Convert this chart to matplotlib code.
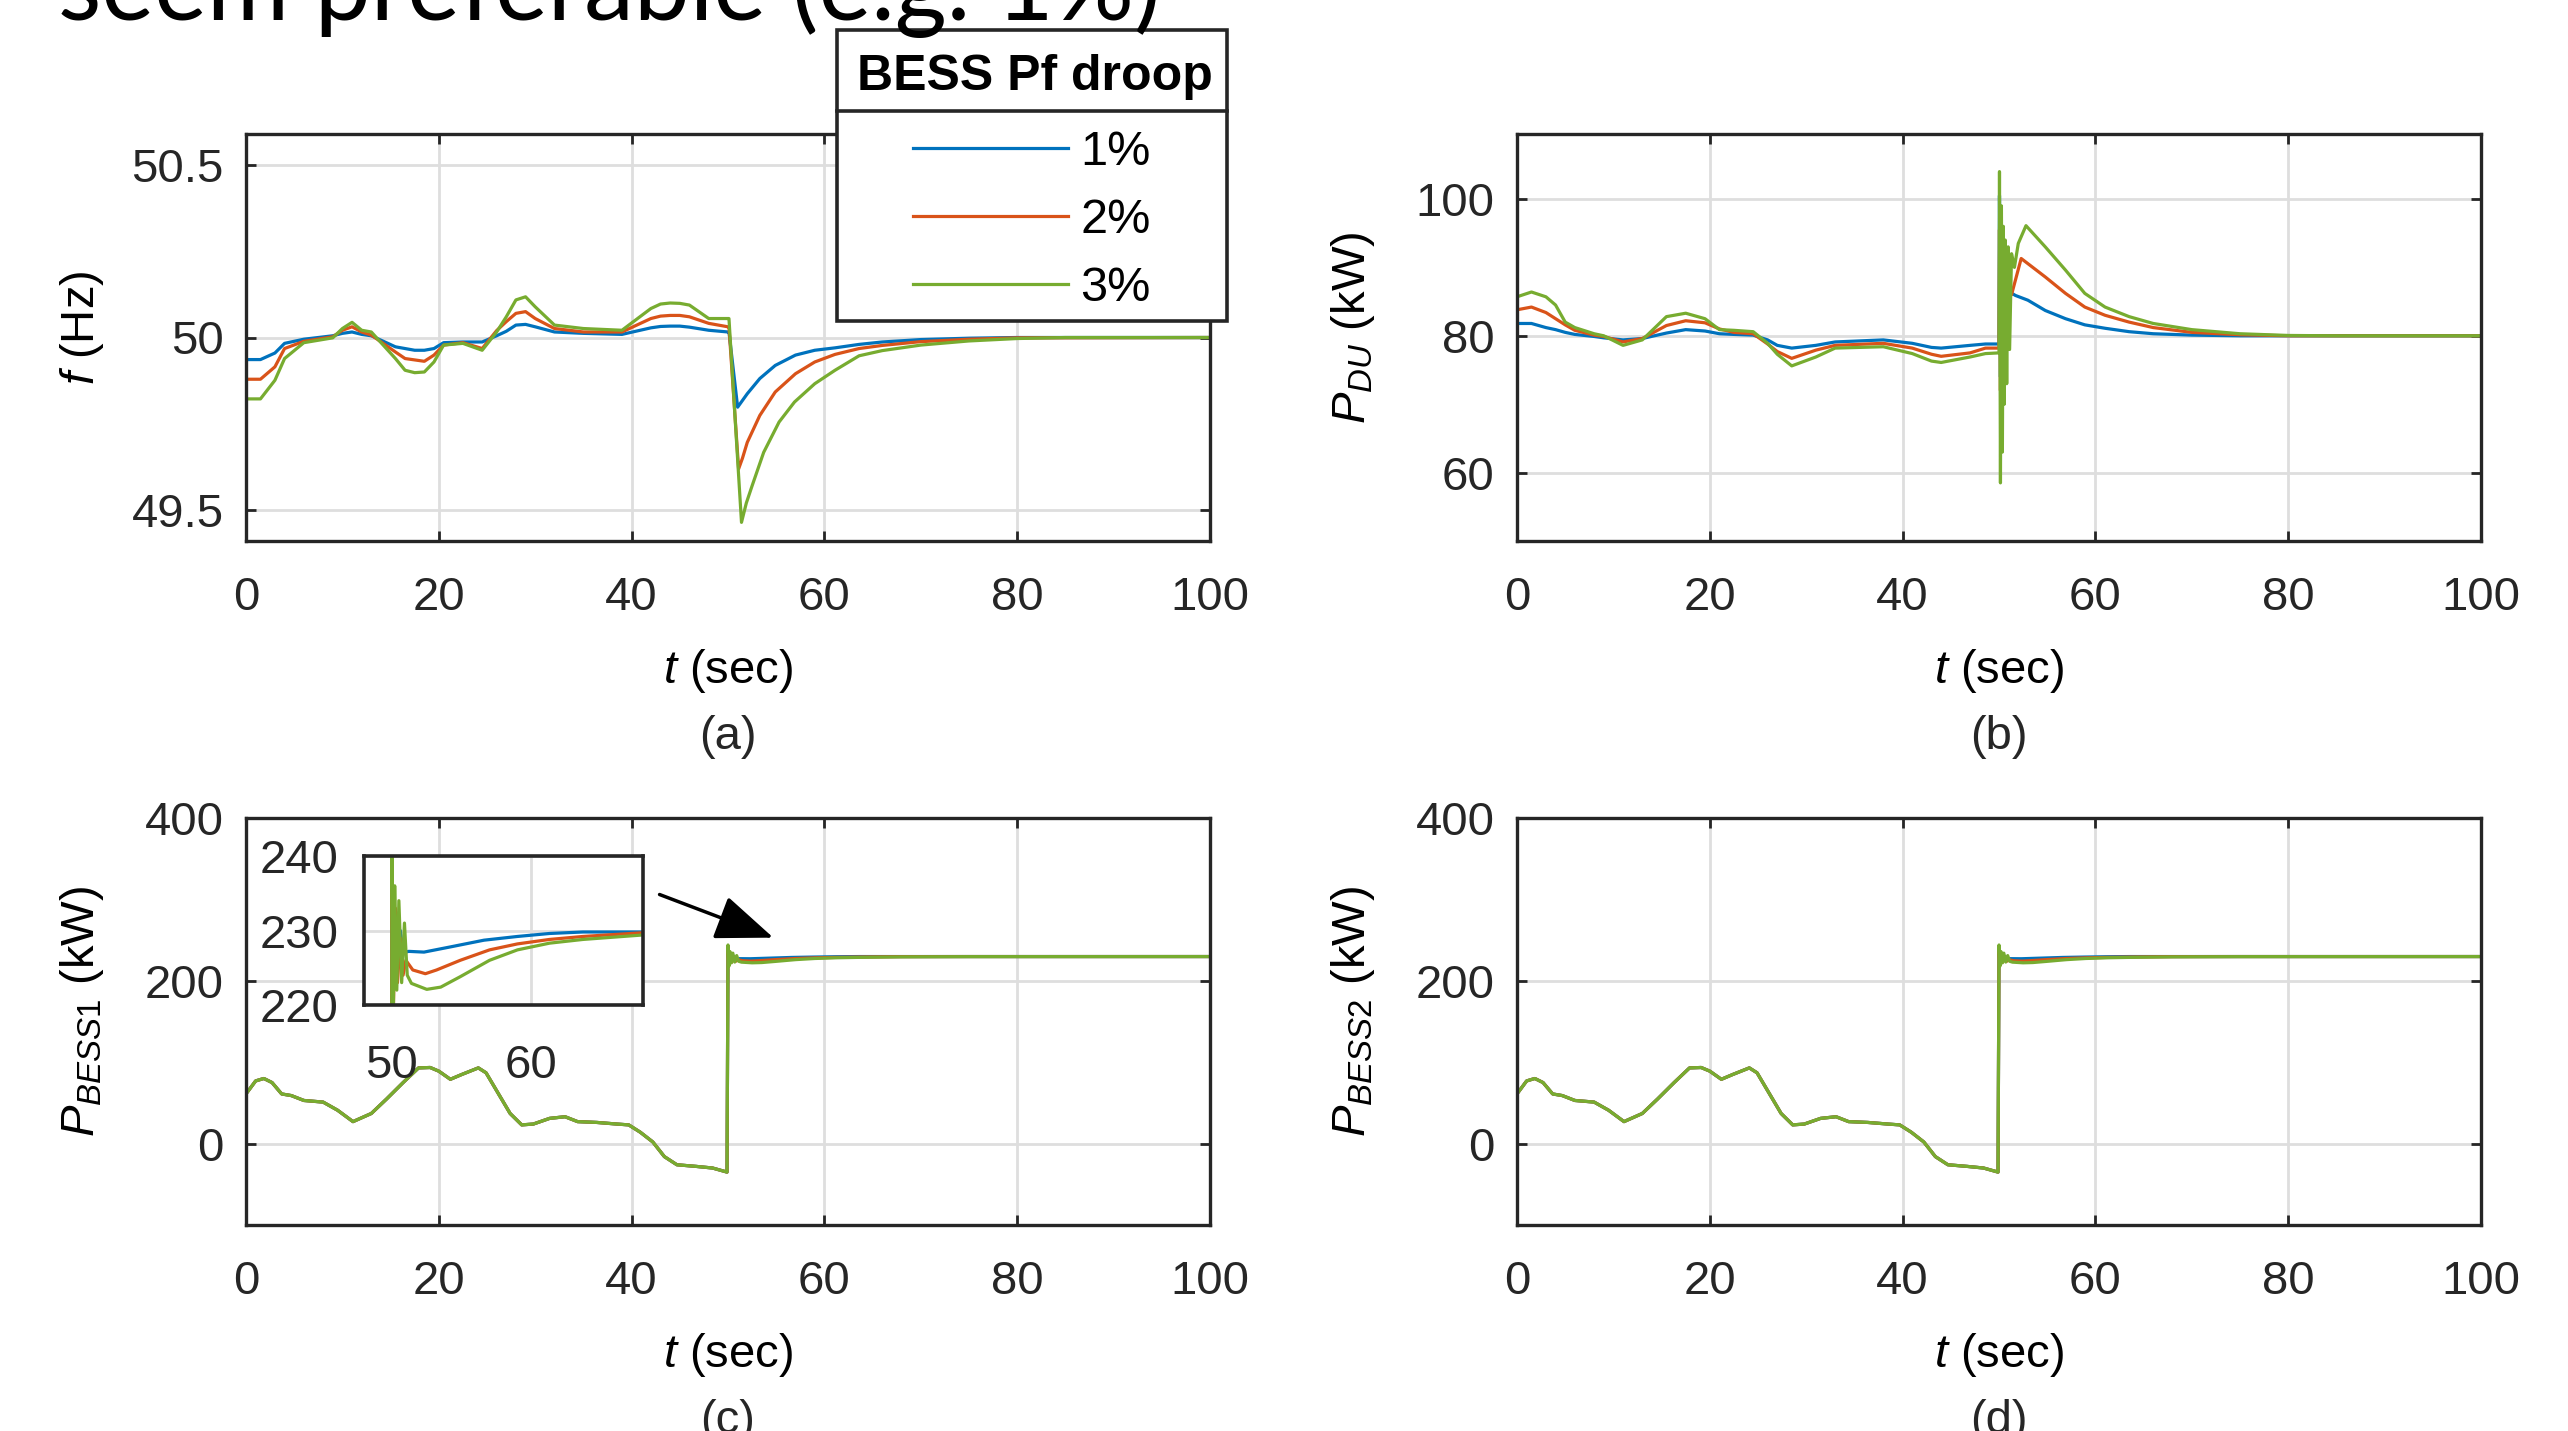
import matplotlib
matplotlib.use("Agg")
import matplotlib.pyplot as plt
from matplotlib.patches import Rectangle
from matplotlib.lines import Line2D
import numpy as np

# MATLAB-like look
plt.rcParams['font.family'] = ['Liberation Sans', 'DejaVu Sans']
plt.rcParams['mathtext.fontset'] = 'custom'
plt.rcParams['mathtext.it'] = 'Liberation Sans:italic'
plt.rcParams['mathtext.rm'] = 'Liberation Sans'

W, H = 2568, 1431
DPI = 100

blue = "#0072BD"
orange = "#D95319"
green = "#77AC30"
droops = ["1%", "2%", "3%"]

# ---- (a) frequency (Hz) ----
t_f_pre = [0, 1.5, 3, 4, 6, 9, 10, 11, 12, 13, 15.5, 16.5, 17.5, 18.5, 19.5, 20.5, 22.5, 24.5,
           26, 27, 28, 29, 30, 32, 35, 39, 42, 43, 44, 45, 46, 48, 50, 50.1]
f1_pre = [49.936, 49.936, 49.955, 49.983, 49.995, 50.005, 50.012, 50.016, 50.009, 50.005, 49.973,
          49.968, 49.963, 49.963, 49.968, 49.985, 49.987, 49.987, 50.005, 50.018, 50.036, 50.038,
          50.031, 50.016, 50.012, 50.009, 50.028, 50.032, 50.033, 50.033, 50.030, 50.021, 50.016,
          50.016]
f2_pre = [49.879, 49.879, 49.915, 49.968, 49.989, 50.002, 50.021, 50.031, 50.016, 50.007, 49.958,
          49.939, 49.935, 49.931, 49.949, 49.978, 49.985, 49.968, 50.020, 50.046, 50.070, 50.075,
          50.055, 50.026, 50.016, 50.016, 50.055, 50.062, 50.064, 50.064, 50.060, 50.041, 50.031,
          50.031]
f3_pre = [49.822, 49.822, 49.876, 49.939, 49.985, 49.999, 50.026, 50.044, 50.021, 50.016, 49.939,
          49.905, 49.898, 49.900, 49.929, 49.978, 49.983, 49.963, 50.016, 50.060, 50.109, 50.118,
          50.089, 50.036, 50.026, 50.021, 50.084, 50.097, 50.100, 50.099, 50.094, 50.055, 50.055,
          50.055]
t_f1_post = [51.0, 52.0, 53.3, 54.9, 57, 59, 61.1, 63.6, 66, 70, 75, 80, 100]
f1_post = [49.798, 49.837, 49.881, 49.919, 49.949, 49.963, 49.970, 49.980, 49.987, 49.994, 49.998,
           50.0, 50.0]
t_f2_post = [51.1, 51.5, 52.0, 53.3, 54.9, 57, 59, 61.1, 63.6, 66, 70, 75, 80, 100]
f2_post = [49.619, 49.65, 49.696, 49.774, 49.842, 49.895, 49.929, 49.951, 49.968, 49.977, 49.988,
           49.995, 49.999, 50.0]
t_f3_post = [51.4, 51.9, 52.5, 53.7, 55.3, 56.9, 59, 61.1, 63.6, 66, 70, 75, 80, 85, 100]
f3_post = [49.464, 49.52, 49.570, 49.667, 49.755, 49.813, 49.866, 49.905, 49.947, 49.962, 49.978,
           49.990, 49.997, 50.0, 50.0]

# ---- (b) diesel unit power (kW) ----
t_du_pre = [0, 1.5, 3, 4, 5, 6, 8, 9, 11, 13, 15.5, 17.5, 19.5, 21, 22.5, 24.5, 26, 27, 28.5,
            31, 33, 38, 41, 43, 44, 47, 48.6, 50]
du1_pre = [81.8, 81.8, 81.2, 80.9, 80.5, 80.2, 79.9, 79.7, 79.4, 79.6, 80.4, 80.9, 80.7, 80.3,
           80.2, 80.1, 79.4, 78.6, 78.2, 78.6, 79.1, 79.4, 78.9, 78.3, 78.2, 78.6, 78.8, 78.8]
du2_pre = [83.8, 84.2, 83.4, 82.5, 81.6, 80.8, 80.1, 79.9, 79.1, 79.6, 81.5, 82.2, 81.9, 81.0,
           80.5, 80.3, 78.8, 77.7, 76.7, 77.9, 78.6, 78.9, 78.2, 77.3, 77.0, 77.5, 78.2, 78.2]
du3_pre = [85.7, 86.4, 85.7, 84.5, 82.0, 81.2, 80.3, 80.0, 78.6, 79.4, 82.8, 83.3, 82.5, 80.9,
           80.8, 80.6, 78.9, 77.3, 75.6, 76.9, 78.2, 78.4, 77.4, 76.3, 76.1, 76.9, 77.4, 77.5]
t_du1_post = [50.05, 50.15, 50.3, 50.45, 50.6, 50.8, 51.0, 51.7, 53, 54.8, 56.9, 58.9, 61, 63.5,
              66, 70, 75, 100]
du1_post = [100.5, 74, 93, 79, 89, 82, 86.5, 85.9, 85.2, 83.7, 82.5, 81.6, 81.1, 80.6, 80.3, 80.1,
            80.0, 80.0]
t_du2_post = [50.05, 50.15, 50.3, 50.45, 50.6, 50.8, 51.0, 51.3, 52.3, 54.8, 56.9, 58.9, 61, 63.5,
              66, 70, 75, 80, 100]
du2_post = [95.5, 72, 93, 76, 90, 80, 88, 86, 91.3, 88.6, 86.2, 84.2, 83.0, 82.0, 81.2, 80.5,
            80.15, 80.0, 80.0]
t_du3_post = [50.05, 50.15, 50.25, 50.35, 50.45, 50.55, 50.65, 50.8, 50.95, 51.1, 51.3, 51.6,
              52.0, 52.8, 54.8, 56.9, 58.9, 61, 63.5, 66, 70, 75, 80, 85, 100]
du3_post = [104, 58.5, 99, 63, 96, 70, 94, 73, 93, 78, 92, 90, 93.5, 96.1, 93.0, 89.6, 86.2, 84.2,
            82.8, 81.8, 80.9, 80.3, 80.05, 80.0, 80.0]

# ---- (c)/(d) BESS power (kW), identical before the event ----
t_bess_pre = [0, 1.0, 1.85, 2.7, 3.7, 4.7, 6.0, 8.0, 9.5, 11.1, 13.0, 14.6, 16.3, 17.9, 19.1, 20.0,
              21.2, 22.4, 24.1, 24.9, 26.1, 27.4, 28.6, 29.8, 31.5, 33.1, 34.4, 36.4, 38.5, 39.7,
              40.9, 42.2, 43.4, 44.7, 46.7, 48.4, 49.9]
p_bess_pre = [61, 77, 80, 75, 61, 59, 53, 51, 41, 27, 37, 55, 75, 93, 93.5, 89, 79, 85, 93, 87, 63,
              37, 23, 24, 31, 33, 27, 26, 24, 23, 14, 2, -16, -26, -28, -30, -35]
t_bess1_post = [50.0, 50.1, 50.25, 50.4, 50.6, 50.8, 51.2, 52.3, 54.2, 56.6, 59, 61.3, 63.7, 100]
bess1_post = [238, 222, 232, 226, 230, 227, 227.2, 227.1, 227.8, 228.7, 229.2, 229.6, 229.8, 229.8]
t_bess2_post = [50.0, 50.1, 50.25, 50.4, 50.6, 50.8, 51.0, 51.5, 52.4, 53.2, 54.9, 57, 59, 61.3,
                63.7, 68, 75, 100]
bess2_post = [240, 219, 233, 223, 229, 224, 226, 224.7, 224.2, 224.7, 226, 227.4, 228.2, 228.8,
              229.2, 229.7, 229.8, 229.8]
t_bess3_post = [50.0, 50.1, 50.2, 50.35, 50.5, 50.7, 50.9, 51.1, 51.4, 52.5, 53.5, 54.9, 57, 59,
                61.3, 63.7, 68, 75, 100]
bess3_post = [244, 218, 236, 222, 234, 223, 231, 224, 222.9, 222.1, 222.4, 223.8, 226, 227.4,
              228.3, 228.8, 229.4, 229.7, 229.8]

t_ticks = [0, 20, 40, 60, 80, 100]


def rect(x0, y0, x1, y1):
    # pixel box (top-left origin) -> figure fraction rect
    return [x0 / W, 1 - y1 / H, (x1 - x0) / W, (y1 - y0) / H]


def style_axes(ax, lw=2.4, size=34, xpad=25, ypad=16):
    for s in ax.spines.values():
        s.set_linewidth(lw)
        s.set_color("#262626")
    ax.tick_params(direction="in", length=7, width=2, colors="#262626",
                   top=True, right=True, labelsize=size, pad=ypad)
    ax.tick_params(axis="x", pad=xpad)
    ax.grid(True, color="#dedede", linewidth=2.0)
    ax.set_axisbelow(True)


def series(ax, data):
    for (t, y), c in zip(data, [blue, orange, green]):
        ax.plot(t, y, color=c, linewidth=2.3)


fig = plt.figure(figsize=(W / DPI, H / DPI), dpi=DPI)

boxes = {
    "a": rect(246, 134, 1210, 541),
    "b": rect(1517, 134, 2481, 541),
    "c": rect(246, 818, 1210, 1225),
    "d": rect(1517, 818, 2481, 1225),
}

f_data = [(t_f_pre + t_f1_post, f1_pre + f1_post),
          (t_f_pre + t_f2_post, f2_pre + f2_post),
          (t_f_pre + t_f3_post, f3_pre + f3_post)]
du_data = [(t_du_pre + t_du1_post, du1_pre + du1_post),
           (t_du_pre + t_du2_post, du2_pre + du2_post),
           (t_du_pre + t_du3_post, du3_pre + du3_post)]
bess_data = [(t_bess_pre + t_bess1_post, p_bess_pre + bess1_post),
             (t_bess_pre + t_bess2_post, p_bess_pre + bess2_post),
             (t_bess_pre + t_bess3_post, p_bess_pre + bess3_post)]

panels = [
    ("a", f_data, (49.41, 50.59), [49.5, 50, 50.5], ["49.5", "50", "50.5"], r"$f$ (Hz)"),
    ("b", du_data, (50.0, 109.5), [60, 80, 100], ["60", "80", "100"], r"$P_{DU}$ (kW)"),
    ("c", bess_data, (-100, 400), [0, 200, 400], ["0", "200", "400"], r"$P_{BESS1}$ (kW)"),
    ("d", bess_data, (-100, 400), [0, 200, 400], ["0", "200", "400"], r"$P_{BESS2}$ (kW)"),
]

axes = {}
for key, data, ylim, yt, ytl, ylab in panels:
    ax = fig.add_axes(boxes[key])
    series(ax, data)
    ax.set_xlim(0, 100)
    ax.set_ylim(*ylim)
    ax.set_xticks(t_ticks)
    ax.set_yticks(yt)
    ax.set_yticklabels(ytl)
    style_axes(ax)
    ax.set_xlabel(r"$t$ (sec)", fontsize=34, va="center")
    ax.xaxis.set_label_coords(0.5, -0.32)
    ax.set_ylabel(ylab, fontsize=34, va="center")
    ax.yaxis.set_label_coords(-0.17, 0.525)
    ax.text(0.5, -0.482, "(%s)" % key, transform=ax.transAxes, ha="center", va="center",
            fontsize=34, color="#262626")
    axes[key] = ax

# arrow pointing from the zoom box to the settling region
axes["c"].annotate("", xy=(54.7, 253), xytext=(42.9, 306),
                   arrowprops=dict(arrowstyle="-|>,head_length=0.9,head_width=0.35",
                                   mutation_scale=40, lw=2.5, color="black",
                                   shrinkA=0, shrinkB=0))

# zoom of BESS1 power after the event
axin = fig.add_axes(rect(364, 856, 643, 1005))
series(axin, bess_data)
axin.set_xlim(48, 68)
axin.set_ylim(220, 240)
axin.set_xticks([50, 60])
axin.set_yticks([220, 230, 240])
style_axes(axin, lw=2.6, xpad=28, ypad=18)
axin.tick_params(length=0)

# legend block
fig.add_artist(Rectangle((837 / W, 1 - 321 / H), 390 / W, 291 / H, transform=fig.transFigure,
                         facecolor="white", edgecolor="#262626", linewidth=2.6, zorder=1))
fig.add_artist(Line2D([837 / W, 1227 / W], [1 - 110.7 / H] * 2, transform=fig.transFigure,
                      color="#262626", linewidth=2.6, zorder=2))
fig.text(1035 / W, 1 - 90 / H, "BESS Pf droop", ha="center", va="baseline",
         fontsize=36, fontweight="bold", zorder=3)
handles = [Line2D([], [], color=c, linewidth=2.3) for c in [blue, orange, green]]
fig.legend(handles, droops, loc="upper left", bbox_to_anchor=(913 / W, 1 - 130 / H),
           frameon=False, fontsize=35, borderpad=0, borderaxespad=0, handlelength=3.19,
           handletextpad=0.25, labelspacing=0.47)

# slide text above the figure, cut by the top edge
fig.text(58 / W, 1 - 20 / H, "seem preferable (e.g. 1%)", ha="left", va="baseline",
         fontsize=72, family=["Lato", "DejaVu Sans"], zorder=3)

fig.savefig("out.png", dpi=DPI)
